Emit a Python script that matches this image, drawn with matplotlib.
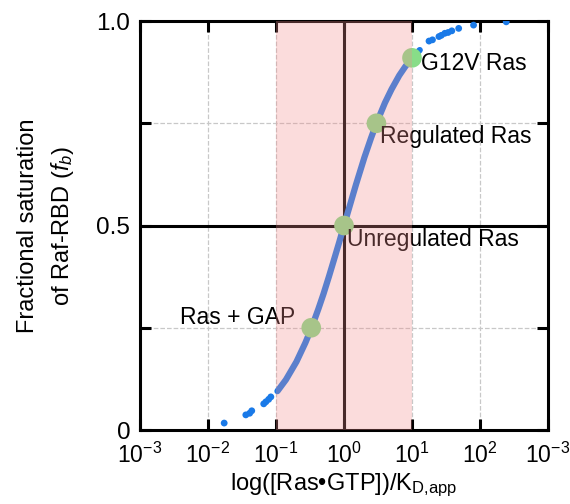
import numpy as np
import matplotlib.pyplot as plt

plt.rcParams['font.family'] = ['Liberation Sans', 'DejaVu Sans']
plt.rcParams['mathtext.fontset'] = 'custom'
plt.rcParams['mathtext.rm'] = 'Liberation Sans'
plt.rcParams['mathtext.it'] = 'Liberation Sans:italic'

# binding curve (continuous part)
curve_x = [0.105, 0.14, 0.2, 0.27, 0.33, 0.42, 0.5, 0.6, 0.7, 0.85, 1.0,
           1.2, 1.5, 2.0, 2.5, 3.0, 4.0, 5.0, 6.5, 8.0, 10.0, 13.0]
curve_y = [0.095, 0.123, 0.167, 0.213, 0.248, 0.296, 0.333, 0.375, 0.412, 0.459, 0.5,
           0.545, 0.6, 0.667, 0.714, 0.75, 0.8, 0.833, 0.867, 0.889, 0.909, 0.929]

# sparse dots at both ends
dot_x = [0.0173, 0.036, 0.041, 0.044, 0.066, 0.071, 0.078, 0.084,
         17.8, 20.0, 24.9, 27.0, 30.4, 34.0, 38.5, 48.6, 80.4, 243.0]
dot_y = [0.017, 0.037, 0.041, 0.047, 0.064, 0.069, 0.075, 0.081,
         0.951, 0.954, 0.962, 0.965, 0.970, 0.972, 0.976, 0.982, 0.990, 0.998]

# highlighted states
state_x = [10.0, 3.0, 1.0, 0.33]
state_y = [0.91, 0.75, 0.5, 0.25]
state_names = ["G12V Ras", "Regulated Ras", "Unregulated Ras", "Ras + GAP"]

xtick_vals = [1e-3, 1e-2, 1e-1, 1e0, 1e1, 1e2, 1e3]
xtick_labels = ["10$^{-3}$", "10$^{-2}$", "10$^{-1}$", "10$^{0}$",
                "10$^{1}$", "10$^{2}$", "10$^{-3}$"]
ytick_vals = [0, 0.25, 0.5, 0.75, 1.0]
ytick_labels = ["0", "", "0.5", "", "1.0"]

fig = plt.figure(figsize=(5.7, 5.04), dpi=100)
ax = fig.add_axes([0.2456, 0.1468, 0.7158, 0.8115])

ax.set_xscale('log')
ax.set_xlim(1e-3, 1e3)
ax.set_ylim(0, 1)

ax.grid(True, which='major', linestyle='--', color='#c8c8c8', linewidth=0.9)
ax.minorticks_off()

ax.axhline(0.5, color='black', linewidth=2.2, zorder=3)
ax.axvline(1.0, color='black', linewidth=2.2, zorder=3)

blue = '#1a7ae8'
ax.plot(curve_x, curve_y, color=blue, linewidth=4.5, solid_capstyle='round', zorder=4)
ax.scatter(dot_x, dot_y, s=24, color=blue, edgecolors='none', zorder=4)

ax.scatter(state_x, state_y, s=200, color='#88dd88', edgecolors='none', zorder=5)

fs = 16.5
ax.text(13.6, 0.897, state_names[0], fontsize=fs, va='center', ha='left', zorder=6)
ax.text(3.4, 0.718, state_names[1], fontsize=fs, va='center', ha='left', zorder=6)
ax.text(1.1, 0.466, state_names[2], fontsize=fs, va='center', ha='left', zorder=6)
ax.text(0.195, 0.275, state_names[3], fontsize=fs, va='center', ha='right', zorder=6)

# translucent pink band drawn over everything inside the axes
ax.axvspan(0.1, 10, color='#f28c8c', alpha=0.3, linewidth=0, zorder=10)

ax.set_xticks(xtick_vals)
ax.set_xticklabels(xtick_labels, fontsize=16.5)
ax.set_yticks(ytick_vals)
ax.set_yticklabels(ytick_labels, fontsize=17.5)
ax.tick_params(direction='in', length=8, width=2.2, top=True, right=True)
ax.tick_params(axis='x', pad=9)
ax.tick_params(axis='y', pad=7)

for s in ax.spines.values():
    s.set_linewidth(2.2)

ax.set_xlabel("log([Ras\u2022GTP])/K$_{\\mathrm{D{,}app}}$", fontsize=17, labelpad=3)
ax.set_ylabel("Fractional saturation\nof Raf-RBD ($f_b$)", fontsize=17,
              labelpad=15, linespacing=1.5)

fig.savefig("out.png", dpi=100)
